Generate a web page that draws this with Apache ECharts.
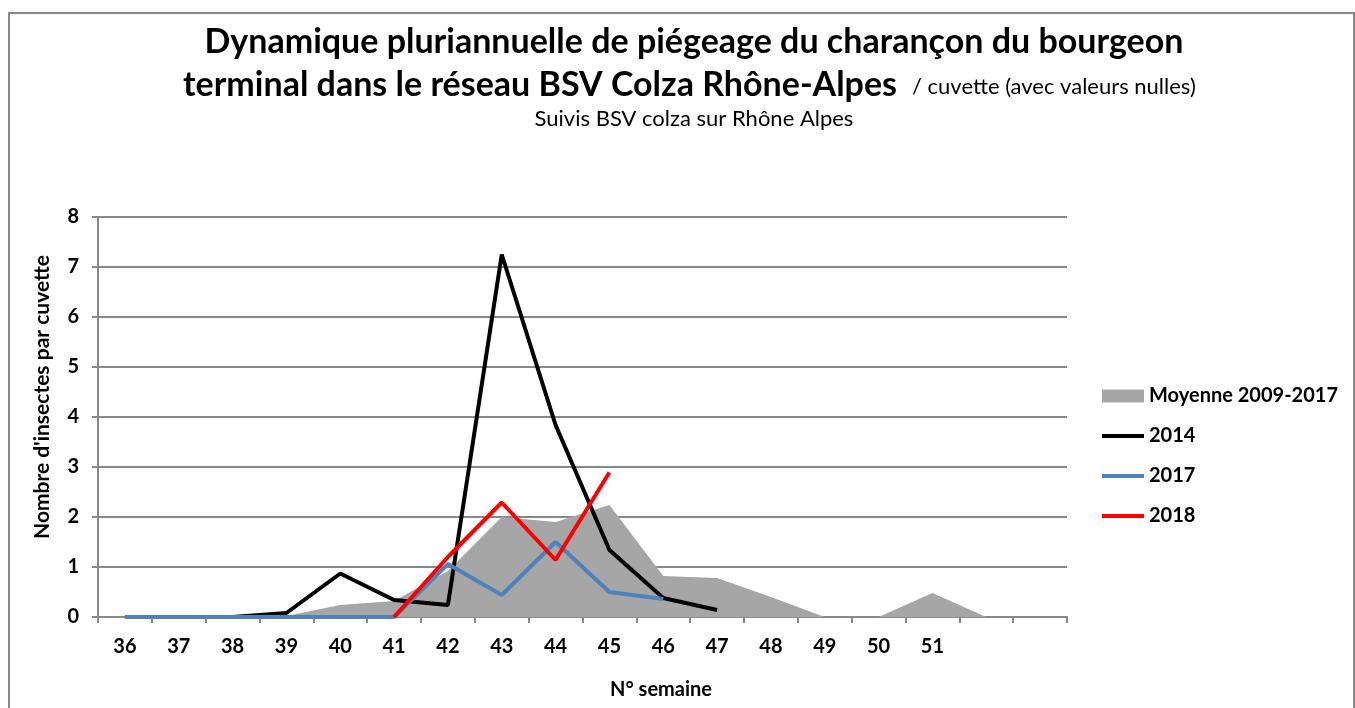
<!DOCTYPE html>
<html>
<head>
<meta charset="utf-8">
<script src="https://cdn.jsdelivr.net/npm/echarts@6/dist/echarts.min.js"></script>
<style>html,body{margin:0;padding:0;background:#fff;}#c{width:1355px;height:708px;}</style>
</head>
<body>
<div id="c"></div>
<script>
const weeks = ['36','37','38','39','40','41','42','43','44','45','46','47','48','49','50','51',' ','  '];
const moyenne = [0, 0, 0, 0.02, 0.24, 0.32, 0.92, 2.0, 1.9, 2.24, 0.82, 0.78, 0.4, 0, 0, 0.48, 0, null];
const y2014 = [0, 0, 0, 0.08, 0.87, 0.34, 0.24, 7.25, 3.84, 1.34, 0.38, 0.14, null, null, null, null, null, null];
const y2017 = [0, 0, 0, 0, 0, 0, 1.06, 0.44, 1.5, 0.5, 0.36, null, null, null, null, null, null, null];
const y2018 = [null, null, null, null, null, 0, 1.2, 2.29, 1.14, 2.89, null, null, null, null, null, null, null, null];
const yTicks = [0, 1, 2, 3, 4, 5, 6, 7, 8];

const FONT = 'Lato, "Open Sans", sans-serif';
const LINE_ICON = 'path://M0,0 L42,0 L42,4 L0,4 Z';
const chart = echarts.init(document.getElementById('c'));
chart.setOption({
  animation: false,
  backgroundColor: '#fff',
  textStyle: { fontFamily: FONT },
  graphic: [
    { type: 'rect', shape: { x: 9, y: 13, width: 1345, height: 710 }, style: { fill: 'none', stroke: '#888', lineWidth: 2 }, silent: true },
    { type: 'text', x: 694, y: 42, style: { text: 'Dynamique pluriannuelle de piégeage du charançon du bourgeon', fontFamily: FONT, fontSize: 34, fontWeight: 'bold', fill: '#000', align: 'center', verticalAlign: 'middle' } },
    { type: 'text', x: 183, y: 85, style: { text: 'terminal dans le réseau BSV Colza Rhône-Alpes', fontFamily: FONT, fontSize: 34, fontWeight: 'bold', fill: '#000', align: 'left', verticalAlign: 'middle' } },
    { type: 'text', x: 912, y: 87, style: { text: '/ cuvette (avec valeurs nulles)', fontFamily: FONT, fontSize: 22, fontWeight: 'normal', fill: '#000', align: 'left', verticalAlign: 'middle' } },
    { type: 'text', x: 694, y: 119, style: { text: 'Suivis BSV colza sur Rhône Alpes', fontFamily: FONT, fontSize: 22, fontWeight: 'normal', fill: '#000', align: 'center', verticalAlign: 'middle' } },
    { type: 'text', x: 42, y: 397, rotation: Math.PI / 2, style: { text: "Nombre d'insectes par cuvette", fontFamily: FONT, fontSize: 21, fontWeight: 'bold', fill: '#000', align: 'center', verticalAlign: 'middle' } },
    { type: 'text', x: 661, y: 690, style: { text: 'N° semaine', fontFamily: FONT, fontSize: 20, fontWeight: 'bold', fill: '#000', align: 'center', verticalAlign: 'middle' } }
  ],
  legend: {
    orient: 'vertical', left: 1097, top: 381, itemWidth: 42, itemHeight: 13, itemGap: 20,
    textStyle: { fontFamily: FONT, fontSize: 20, lineHeight: 20, fontWeight: 'bold', color: '#000' },
    data: [
      { name: 'Moyenne 2009-2017', icon: 'rect' },
      { name: '2014', icon: LINE_ICON }, { name: '2017', icon: LINE_ICON }, { name: '2018', icon: LINE_ICON }
    ]
  },
  grid: { left: 98, right: 288, top: 217, bottom: 91, containLabel: false },
  xAxis: {
    type: 'category', data: weeks, boundaryGap: true,
    axisLine: { lineStyle: { color: '#888', width: 2 } },
    axisTick: { show: true, length: 6, lineStyle: { color: '#888', width: 2 }, alignWithLabel: false },
    axisLabel: { fontFamily: FONT, fontSize: 20, fontWeight: 'bold', color: '#000', margin: 20, interval: 0 },
    splitLine: { show: false }
  },
  yAxis: {
    type: 'value', min: 0, max: 8, interval: 1,
    axisLine: { show: true, lineStyle: { color: '#888', width: 2 } },
    axisTick: { show: true, length: 6, lineStyle: { color: '#888', width: 2 } },
    axisLabel: { fontFamily: FONT, fontSize: 20, fontWeight: 'bold', color: '#000', margin: 19,
      formatter: v => yTicks.includes(v) ? String(v) : '' },
    splitLine: { show: true, lineStyle: { color: '#888', width: 2 } }
  },
  series: [
    { name: 'Moyenne 2009-2017', type: 'line', data: moyenne, symbol: 'none', connectNulls: false,
      lineStyle: { width: 0, color: '#a6a6a6' }, itemStyle: { color: '#a6a6a6' },
      areaStyle: { color: '#a6a6a6', opacity: 1 }, z: 1 },
    { name: '2014', type: 'line', data: y2014, symbol: 'none',
      lineStyle: { width: 4, color: '#000' }, itemStyle: { color: '#000' }, z: 3 },
    { name: '2017', type: 'line', data: y2017, symbol: 'none',
      lineStyle: { width: 4, color: '#4f81bd' }, itemStyle: { color: '#4f81bd' }, z: 4 },
    { name: '2018', type: 'line', data: y2018, symbol: 'none',
      lineStyle: { width: 4, color: '#ff0000' }, itemStyle: { color: '#ff0000' }, z: 5 }
  ]
});
</script>
</body>
</html>
